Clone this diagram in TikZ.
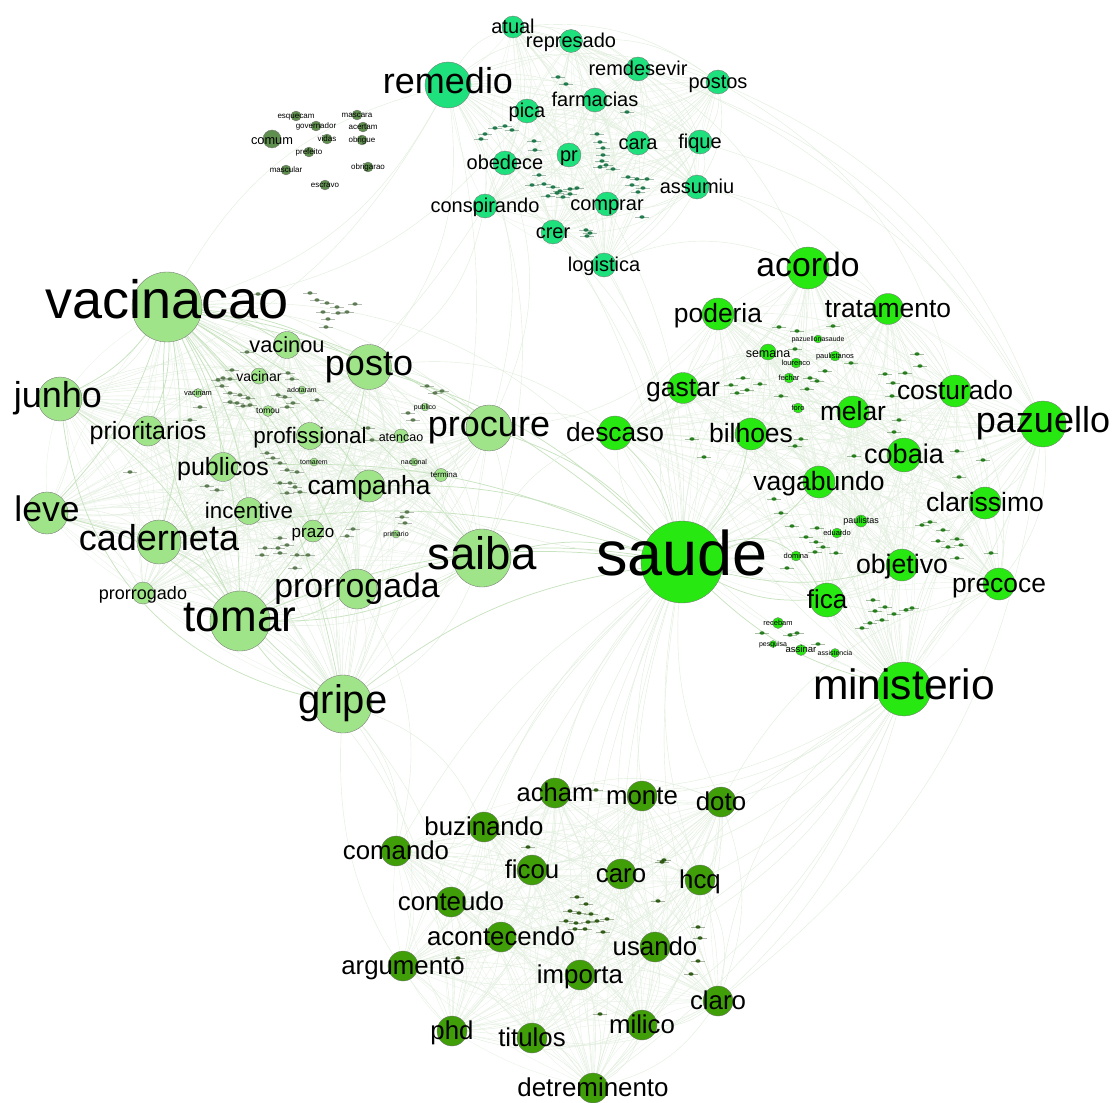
\documentclass[tikz,border=0pt]{standalone}
\usepackage{fontspec}
\setmainfont{Liberation Sans}
\usetikzlibrary{backgrounds,shapes.geometric}
\definecolor{cvac}{HTML}{A0E48A}
\definecolor{csau}{HTML}{28E812}
\definecolor{crem}{HTML}{1EE07C}
\definecolor{cbot}{HTML}{409E09}
\definecolor{coli}{HTML}{5F8F4E}
\definecolor{edgeA}{HTML}{E0EEDC}
\definecolor{edgeB}{HTML}{C8E3C0}
\definecolor{edgeC}{HTML}{EBF4E8}
\colorlet{cur}{cvac}
\tikzset{
  wordcircle/.style={circle,draw=black!55,line width=0.25pt,fill=cur,inner sep=0pt},
  wordtext/.style={anchor=base,inner sep=0pt,text=black},
  faint/.style={draw=edgeA,line width=0.3pt},
  fainter/.style={draw=edgeC,line width=0.3pt},
  strong/.style={draw=edgeB,line width=0.55pt},
  tinydot/.style={ellipse,fill=cur!50!black,opacity=.9,inner sep=0pt,minimum width=3.8,minimum height=2.6},
  tinylabel/.style={rectangle,fill=cur!30!black,opacity=.35,inner sep=0pt,minimum width=10,minimum height=0.7}
}
% [dx]{name}{x}{y}{radius}{font px}{text}
\newcommand\wn[7][0]{%
  \pgfmathsetmacro\wnd{2*#5*0.75}%
  \pgfmathsetmacro\wnf{#6*0.75}%
  \pgfmathsetmacro\wnx{#3+#1}%
  \pgfmathsetmacro\wny{#4+0.24*#6+(#6<48?(#6>30?0.3:(#6>12?2:0.5)):-1.5)}%
  \node[wordcircle,minimum size=\wnd pt] (#2) at (#3,#4) {};
  \node[wordtext,font=\fontsize{\wnf pt}{\wnf pt}\selectfont] (#2t) at (\wnx,\wny) {#7};
}
\newcommand\tinies[1]{%
  \foreach \px/\py [count=\pc] in {#1} {
    \node[tinylabel] at (\px,\py) {};
    \node[tinydot] at (\px,\py) {};
  }%
}
\newcommand\clique[2]{%
  \foreach \a [count=\i] in #1 {
    \foreach \b [count=\j] in #1 {
      \ifnum\i<\j
        \draw[faint,bend left=#2] (\a) to (\b);
        \draw[fainter,bend right=8] (\a) to (\b);
      \fi
    }
  }%
}
\begin{document}
\begin{tikzpicture}[x=0.75pt,y=-0.75pt]
\useasboundingbox (0,0) rectangle (1112,1102);

% ---- vacinacao group
\colorlet{cur}{cvac}
\wn{vacinacao}{167}{307}{35}{54}{vacinacao}
\wn{vacinou}{287}{345}{13.5}{21.8}{vacinou}
\wn{posto}{369}{367}{22.5}{36}{posto}
\wn[-2]{junho}{60}{399}{22}{36}{junho}
\wn{prioritarios}{148}{431}{15}{25}{prioritarios}
\wn{procure}{489}{428}{23}{36}{procure}
\wn{profissional}{310}{436}{13.5}{22.4}{profissional}
\wn{publicos}{223}{467}{14.5}{25}{publicos}
\wn{campanha}{369}{486}{16}{26.3}{campanha}
\wn{incentive}{249}{511}{13.5}{22.3}{incentive}
\wn{leve}{47}{513}{21}{35.5}{leve}
\wn{caderneta}{159}{542}{22}{36}{caderneta}
\wn{prazo}{313}{531}{11}{17}{prazo}
\wn{saiba}{482}{558}{29}{45.6}{saiba}
\wn{prorrogada}{357}{589}{20}{33.8}{prorrogada}
\wn{prorrogado}{143}{593}{11}{18}{prorrogado}
\wn{tomar}{240}{621}{30}{44}{tomar}
\wn{gripe}{343}{704}{29}{40}{gripe}
\wn{vacinar}{259}{376}{8}{14}{vacinar}
\wn{atencao}{401}{436}{7}{12.5}{atencao}
\wn[3]{termina}{441}{475}{6.5}{8}{termina}
\wn{vacinam}{198}{393}{4.5}{7.5}{vacinam}
\wn{tomou}{268}{411}{5.5}{8.5}{tomou}
\wn{adotam}{302}{390}{4}{7}{adotaram}
\wn{publico}{425}{407}{4}{7}{publico}
\wn{tomarem}{314}{462}{4}{7}{tomarem}
\wn{nacional}{414}{462}{4}{7}{nacional}
\wn{primario}{396}{534}{4}{7}{primario}
\tinies{310/293,317/300,327/303,337/307,355/304,323/312,338/313,347/312,328/319,326/327,258/294,247/352,232/370,223/378,230/379,218/380,222/386,230/393,240/395,248/398,230/402,237/403,243/406,250/405,200/407,190/420,288/373,292/379,278/395,285/397,293/403,287/407,317/400,427/386,442/391,435/393,408/413,413/420,368/428,372/440,267/453,273/458,280/463,287/470,297/472,280/483,290/483,295/487,300/492,287/493,207/486,217/490,407/512,402/517,405/523,353/529,347/536,280/538,287/545,278/548,265/548,262/555,280/553,297/555,308/555,295/568,130/472}

% ---- saude group
\colorlet{cur}{csau}
\wn{saude}{682}{562}{41}{63}{saude}
\wn{ministerio}{904}{689}{27}{42.5}{ministerio}
\wn{pazuello}{1043}{424}{23}{36}{pazuello}
\wn{acordo}{808}{268}{21}{33.7}{acordo}
\wn{tratamento}{888}{309}{15.5}{26.4}{tratamento}
\wn{poderia}{718}{314}{16}{26.4}{poderia}
\wn{gastar}{683}{388}{15.5}{26.5}{gastar}
\wn{costurado}{955}{391}{16}{26.4}{costurado}
\wn{descaso}{615}{433}{17}{26.3}{descaso}
\wn{bilhoes}{751}{434}{16}{26.5}{bilhoes}
\wn{melar}{853}{412}{16}{26.4}{melar}
\wn{cobaia}{904}{455}{17}{27}{cobaia}
\wn{vagabundo}{819}{482}{16}{26.5}{vagabundo}
\wn{clarissimo}{985}{503}{16}{26.5}{clarissimo}
\wn{objetivo}{902}{565}{16}{26.7}{objetivo}
\wn{precoce}{999}{584}{16}{26.4}{precoce}
\wn{fica}{827}{600}{17}{26}{fica}
\wn{semana}{768}{352}{8}{12.5}{semana}
\wn{lourenco}{796}{363}{5}{7.5}{lourenco}
\wn{pazuellonasaude}{818}{339}{4}{7}{pazuellonasaude}
\wn{paulistanos}{835}{356}{5}{7.5}{paulistanos}
\wn{fechar}{789}{378}{5}{7.5}{fechar}
\wn{foro}{798}{408}{5}{7.5}{foro}
\wn{paulistas}{861}{521}{6}{9}{paulistas}
\wn{eduardo}{837}{533}{5}{7.5}{eduardo}
\wn{domina}{796}{556}{5}{7.5}{domina}
\wn{recebam}{778}{623}{5.5}{7.5}{recebam}
\wn{assinar}{801}{650}{5.5}{9.5}{assinar}
\wn{assistencia}{835}{653}{4.5}{7}{assistencia}
\wn{pesquisa}{773}{644}{3.5}{7}{pesquisa}
\tinies{797/331,833/326,760/384,779/327,743/378,731/385,747/390,737/393,781/396,807/389,817/381,810/378,825/371,795/349,851/363,885/374,905/373,920/366,917/354,893/383,892/396,899/420,894/432,801/439,795/446,854/456,957/451,983/460,959/477,774/499,781/513,792/526,817/528,806/537,816/542,823/547,836/553,815/552,787/568,930/522,922/525,943/530,938/541,957/539,948/547,961/545,957/558,991/553,873/600,875/611,885/607,894/614,906/610,912/608,882/620,870/623,862/628,762/633,790/635,797/633,818/644,704/457,692/439}

% ---- remedio group
\colorlet{cur}{crem}
\wn{remedio}{448}{85}{23}{36}{remedio}
\wn{atual}{513}{27}{11}{20}{atual}
\wn{represado}{571}{41}{11.5}{20}{represado}
\wn{remdesevir}{638}{69}{12}{20}{remdesevir}
\wn{postos}{718}{82}{12}{20}{postos}
\wn{farmacias}{595}{100}{12}{20}{farmacias}
\wn{pica}{527}{111}{12}{20}{pica}
\wn{fique}{700}{142}{12}{20}{fique}
\wn{cara}{638}{143}{12}{20}{cara}
\wn{pr}{569}{155}{12}{20}{pr}
\wn{obedece}{505}{163}{12}{20}{obedece}
\wn{assumiu}{697}{187}{12}{20}{assumiu}
\wn{conspirando}{485}{206}{12}{20}{conspirando}
\wn{comprar}{607}{204}{12}{20}{comprar}
\wn{crer}{553}{232}{12}{20}{crer}
\wn{logistica}{604}{265}{12}{20}{logistica}
\tinies{558/77,566/84,495/128,505/126,512/130,485/134,481/139,534/141,535/150,597/134,600/142,603/148,603/155,602/161,606/165,600/167,613/169,539/175,544/184,532/185,553/187,560/191,570/189,577/188,548/196,557/193,563/197,570/194,628/177,637/179,647/179,632/185,643/188,638/192,642/217,586/230,590/233,587/236,627/112}

% ---- bottom group
\colorlet{cur}{cbot}
\wn{acham}{555}{793}{15}{25.5}{acham}
\wn{monte}{642}{796}{15}{25.8}{monte}
\wn{doto}{721}{802}{15}{25.8}{doto}
\wn{buzinando}{484}{827}{15}{25.8}{buzinando}
\wn{comando}{396}{851}{15}{25.8}{comando}
\wn{ficou}{532}{870}{15}{25.8}{ficou}
\wn{caro}{621}{874}{15}{25.8}{caro}
\wn{hcq}{700}{880}{15}{25.8}{hcq}
\wn{conteudo}{451}{902}{15}{25.8}{conteudo}
\wn{acontecendo}{501}{937}{15}{25.8}{acontecendo}
\wn{usando}{655}{947}{15}{25.8}{usando}
\wn{argumento}{403}{966}{15}{25.8}{argumento}
\wn{importa}{580}{975}{15}{25.8}{importa}
\wn{claro}{718}{1001}{15}{25.8}{claro}
\wn{milico}{642}{1025}{15}{25.8}{milico}
\wn{phd}{452}{1031}{15}{25.8}{phd}
\wn{titulos}{532}{1038}{15}{25.8}{titulos}
\wn{detreminento}{593}{1088}{15}{25.9}{detreminento}
\tinies{577/897,586/904,570/911,579/913,591/914,607/919,566/921,576/923,588/922,597/921,585/929,575/929,603/932,658/901,698/927,700/938,698/961,662/862,596/790,528/847,458/958,600/1014,691/974,664/860}

% ---- small detached group
\colorlet{cur}{coli}
\wn{comum}{272}{139}{9}{12.8}{comum}
\wn{esquecam}{296}{116}{5}{8}{esquecam}
\wn{governador}{316}{126}{5}{8}{governador}
\wn{mascara}{357}{115}{5}{8}{mascara}
\wn{acertam}{363}{127}{5}{8}{acertam}
\wn{vidas}{327}{139}{5}{8}{vidas}
\wn{obrigue}{362}{140}{5}{8}{obrigue}
\wn{prefeito}{309}{152}{5}{8}{prefeito}
\wn{mascular}{286}{170}{5}{8}{mascular}
\wn{obrigarao}{368}{167}{5}{8}{obrigarao}
\wn{escravo}{325}{185}{5}{8}{escravo}

\begin{scope}[on background layer]
\fill[white] (0,0) rectangle (1112,1102);
\def\vacA{vacinacao,vacinou,posto,junho,prioritarios,procure,profissional,publicos,campanha,incentive,leve,caderneta,prazo,saiba,prorrogada,prorrogado,tomar,gripe,vacinar,atencao,termina}
\def\sauA{saude,ministerio,pazuello,acordo,tratamento,poderia,gastar,costurado,descaso,bilhoes,melar,cobaia,vagabundo,clarissimo,objetivo,precoce,fica,semana,paulistas}
\def\remA{remedio,atual,represado,remdesevir,postos,farmacias,pica,fique,cara,pr,obedece,assumiu,conspirando,comprar,crer,logistica}
\def\botA{acham,monte,doto,buzinando,comando,ficou,caro,hcq,conteudo,acontecendo,usando,argumento,importa,claro,milico,phd,titulos,detreminento}
\clique{\vacA}{20}
\clique{\sauA}{20}
\clique{\remA}{20}
\clique{\botA}{20}
% hub spokes
\foreach \b in {vacinou,posto,prioritarios,profissional,publicos,campanha,incentive,leve,caderneta,prazo,saiba,prorrogada,tomar,gripe,junho,procure}
  {\draw[strong,bend left=12] (vacinacao) to (\b);}
\foreach \b in {caderneta,prorrogada,gripe,saiba,leve,junho,posto,campanha}
  {\draw[strong,bend left=15] (\b) to (tomar);}
\foreach \b in {saiba,procure,posto,tomar,prorrogada,gripe,vacinacao,campanha,caderneta,publicos,descaso,ministerio,fica,objetivo,vagabundo,bilhoes}
  {\draw[strong,bend right=14] (saude) to (\b);}
\foreach \b in {remedio,crer,logistica,comprar,acordo,poderia,gastar,acham,monte,doto,caro,hcq,ficou,buzinando,comando,usando,importa,detreminento,conteudo,argumento,claro,phd,titulos,milico}
  {\draw[faint,bend right=14] (saude) to (\b);}
\foreach \b in {doto,hcq,usando,claro,caro,monte,milico,importa,acham,detreminento,fica,objetivo,precoce,clarissimo,pazuello,cobaia,vagabundo,costurado,melar,acordo}
  {\draw[faint,bend left=15] (ministerio) to (\b);}
\foreach \a/\b in {remedio/vacinacao,remedio/posto,remedio/procure,remedio/saiba,remedio/gripe,conspirando/posto,pica/vacinacao,obedece/procure,logistica/acordo,postos/pazuello,fique/pazuello,assumiu/acordo,postos/costurado,assumiu/tratamento,remedio/junho,represado/acordo,gripe/comando,gripe/argumento,gripe/buzinando,gripe/phd,prorrogada/comando,tomar/phd,leve/gripe,junho/tomar,doto/precoce,claro/ministerio,pazuello/claro,pazuello/doto,vacinacao/remedio,posto/descaso,procure/descaso,saiba/descaso,detreminento/ministerio,phd/gripe,atual/pazuello,remdesevir/pazuello,conspirando/leve,remedio/saude,crer/saude,acordo/descaso,poderia/procure}
  {\draw[faint,bend left=22] (\a) to (\b);}
\draw[strong,bend right=28] (vacinacao) to (gripe);
\draw[strong,bend right=35] (junho) to (gripe);
\draw[faint,bend left=30] (vacinacao) to (saude);
\draw[faint,bend right=20] (vacinacao) to (saude);
\draw[strong,bend left=40,looseness=1.2] (saude) to (fica);
\end{scope}
\end{tikzpicture}
\end{document}
